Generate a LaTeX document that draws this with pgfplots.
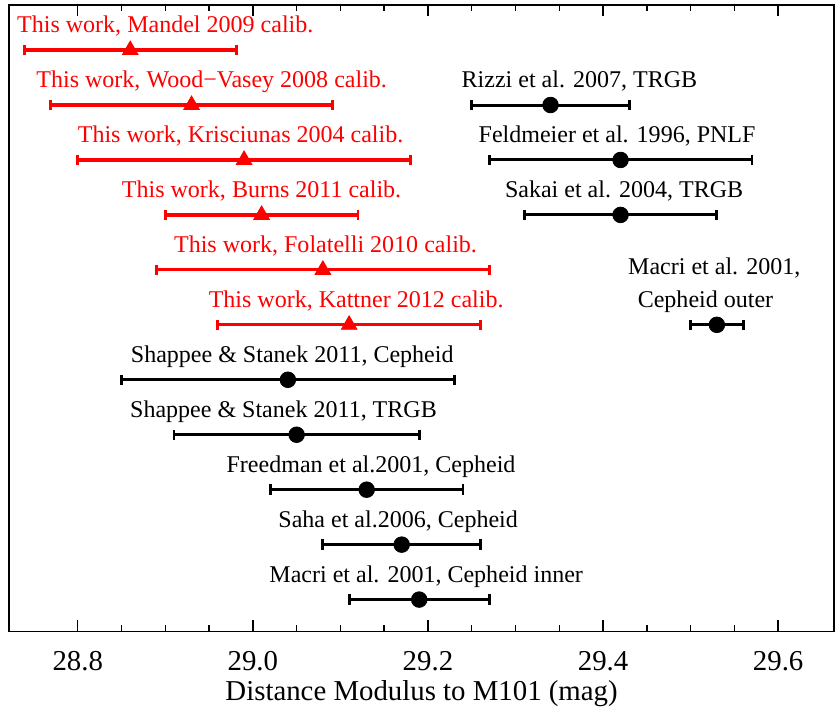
\documentclass[border=0pt]{standalone}
\usepackage{fontspec}
\setmainfont{Liberation Serif}
\usepackage{pgfplots}
\pgfplotsset{compat=1.18}
\begin{document}
\begin{tikzpicture}
\begin{axis}[
  scale only axis,
  width=412.3pt, height=313pt,
  xmin=28.7215, xmax=29.664,
  ymin=0.42, ymax=11.82,
  ytick=\empty,
  xtick={28.8,29.0,29.2,29.4,29.6},
  minor x tick num=3,
  xticklabels={28.8,29.0,29.2,29.4,29.6},
  axis line style={line width=0.8pt},
  every tick/.style={black, line width=0.7pt},
  major tick length=5.5pt,
  minor tick length=3pt,
  xticklabel style={font=\fontsize{14.4}{17}\selectfont, anchor=base, yshift=-19.5pt},
  /pgf/number format/assume math mode=true,
  xlabel={Distance Modulus to M101 (mag)},
  xlabel style={font=\fontsize{14.4}{17}\selectfont, at={(axis description cs:0.5,0)}, anchor=base, yshift=-34.5pt},
  clip=false,
]
% This work (red triangles)
\addplot[only marks, red, mark=triangle*, mark size=4.5pt,
  error bars/.cd, x dir=both, x explicit,
  error bar style={line width=1.6pt, red},
  error mark options={rotate=90, line width=1.4pt, mark size=2.6pt, red}]
  coordinates {
  (28.86,11) +- (0.121,0)
  (28.93,10) +- (0.161,0)
  (28.99,9)  +- (0.19,0)
  (29.01,8)  +- (0.11,0)
  (29.08,7)  +- (0.19,0)
  (29.11,6)  +- (0.15,0)
  };
% Literature (black circles)
\addplot[only marks, black, mark=*, mark size=3.9pt,
  error bars/.cd, x dir=both, x explicit,
  error bar style={line width=1.5pt, black},
  error mark options={rotate=90, line width=1.4pt, mark size=2.6pt, black}]
  coordinates {
  (29.04,5) +- (0.19,0)
  (29.05,4) +- (0.14,0)
  (29.13,3) +- (0.11,0)
  (29.17,2) +- (0.09,0)
  (29.19,1) +- (0.08,0)
  (29.34,10) +- (0.09,0)
  (29.42,9) +- (0.15,0)
  (29.42,8) +- (0.11,0)
  (29.53,6) +- (0.03,0)
  };
\begin{scope}[every node/.style={anchor=base, font=\fontsize{12}{14}\selectfont, inner sep=0pt, yshift=8.6pt}]
\node[red] at (axis cs:28.900,11) {This work, Mandel 2009 calib.};
\node[red] at (axis cs:28.953,10) {This work, Wood−Vasey 2008 calib.};
\node[red] at (axis cs:28.986,9) {This work, Krisciunas 2004 calib.};
\node[red] at (axis cs:29.010,8) {This work, Burns 2011 calib.};
\node[red] at (axis cs:29.083,7) {This work, Folatelli 2010 calib.};
\node[red] at (axis cs:29.118,6) {This work, Kattner 2012 calib.};
\node at (axis cs:29.045,5) {Shappee \& Stanek 2011, Cepheid};
\node at (axis cs:29.035,4) {Shappee \& Stanek 2011, TRGB};
\node at (axis cs:29.135,3) {Freedman et al.2001, Cepheid};
\node at (axis cs:29.166,2) {Saha et al.2006, Cepheid};
\node at (axis cs:29.198,1) {Macri et al. 2001, Cepheid inner};
\node at (axis cs:29.373,10) {Rizzi et al. 2007, TRGB};
\node at (axis cs:29.416,9) {Feldmeier et al. 1996, PNLF};
\node at (axis cs:29.424,8) {Sakai et al. 2004, TRGB};
\node at (axis cs:29.517,6) {Cepheid outer};
\node[yshift=16.4pt] at (axis cs:29.527,6) {Macri et al. 2001,};
\end{scope}
\end{axis}
\path ([xshift=-4.5pt,yshift=2.5pt]current axis.north west) rectangle ([yshift=-37pt]current axis.south east);
\end{tikzpicture}
\end{document}
